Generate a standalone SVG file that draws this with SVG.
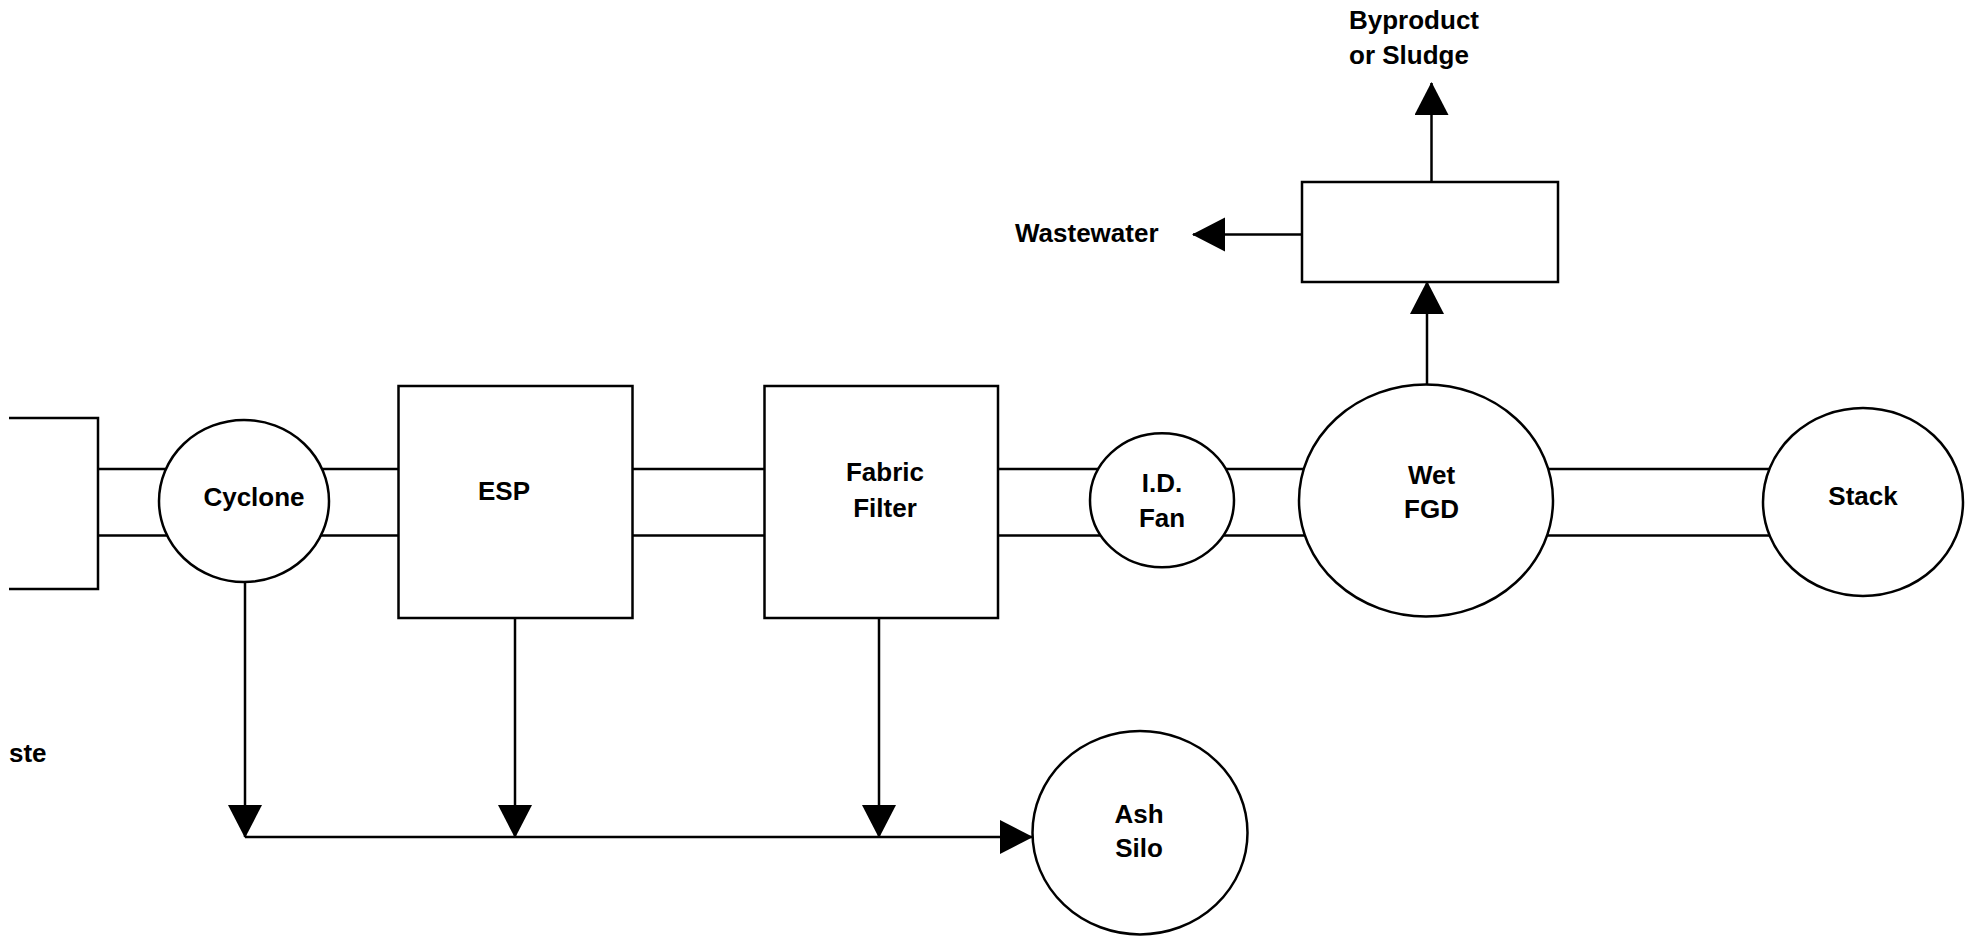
<svg xmlns="http://www.w3.org/2000/svg" width="1978" height="936" viewBox="0 0 1978 936">
<style>
.ln{fill:none;stroke:#000;stroke-width:2.5}
.sh{fill:#fff;stroke:#000;stroke-width:2.5}
.t{font-family:"Liberation Sans",Arial,sans-serif;font-weight:bold;font-size:26px;fill:#000}
.c{text-anchor:middle}
</style>
<defs>
<marker id="ah" markerUnits="userSpaceOnUse" markerWidth="34" markerHeight="36" refX="32" refY="17" orient="auto" viewBox="0 0 34 36">
<path d="M0,0 L33,17 L0,34 Z" fill="#000"/>
</marker>
</defs>
<g id="connectors">
<polyline class="ln" points="9,418 98,418 98,589 9,589"/>
<line class="ln" x1="98" y1="469" x2="1863" y2="469"/>
<line class="ln" x1="98" y1="535.5" x2="1863" y2="535.5"/>
<line class="ln" x1="245" y1="582" x2="245" y2="837" marker-end="url(#ah)"/>
<line class="ln" x1="515" y1="618" x2="515" y2="837" marker-end="url(#ah)"/>
<line class="ln" x1="879" y1="618" x2="879" y2="837" marker-end="url(#ah)"/>
<line class="ln" x1="245" y1="837" x2="1032" y2="837" marker-end="url(#ah)"/>
<line class="ln" x1="1427" y1="385" x2="1427" y2="282" marker-end="url(#ah)"/>
<line class="ln" x1="1431.5" y1="182" x2="1431.5" y2="83" marker-end="url(#ah)"/>
<line class="ln" x1="1302" y1="234.5" x2="1193" y2="234.5" marker-end="url(#ah)"/>
</g>
<g id="cyclone">
<ellipse class="sh" cx="244" cy="501" rx="85" ry="81"/>
<text class="t c" x="254" y="506">Cyclone</text>
</g>
<g id="esp">
<rect class="sh" x="398.5" y="386" width="234" height="232"/>
<text class="t c" x="504" y="500">ESP</text>
</g>
<g id="fabric-filter">
<rect class="sh" x="764.5" y="386" width="233.5" height="232"/>
<text class="t c" x="885" y="481">Fabric</text>
<text class="t c" x="885" y="516.7">Filter</text>
</g>
<g id="id-fan">
<ellipse class="sh" cx="1162" cy="500.3" rx="72" ry="67"/>
<text class="t c" x="1162" y="491.7">I.D.</text>
<text class="t c" x="1162" y="526.7">Fan</text>
</g>
<g id="wet-fgd">
<ellipse class="sh" cx="1426" cy="500.5" rx="127" ry="116"/>
<text class="t c" x="1431.5" y="484">Wet</text>
<text class="t c" x="1431.5" y="518.3">FGD</text>
</g>
<g id="stack">
<ellipse class="sh" cx="1863" cy="502" rx="100" ry="94"/>
<text class="t c" x="1863" y="505">Stack</text>
</g>
<g id="dewatering">
<rect class="sh" x="1302" y="182" width="256" height="100"/>
</g>
<g id="ash-silo">
<ellipse class="sh" cx="1140" cy="832.7" rx="107.5" ry="101.7"/>
<text class="t c" x="1139" y="822.7">Ash</text>
<text class="t c" x="1139" y="856.7">Silo</text>
</g>
<g id="wastewater">
<text class="t" x="1015" y="241.7">Wastewater</text>
</g>
<g id="byproduct">
<text class="t" x="1349" y="29.3">Byproduct</text>
<text class="t" x="1349" y="64.3">or Sludge</text>
</g>
<g id="waste-label">
<text class="t" x="9" y="761.7">ste</text>
</g>
</svg>
